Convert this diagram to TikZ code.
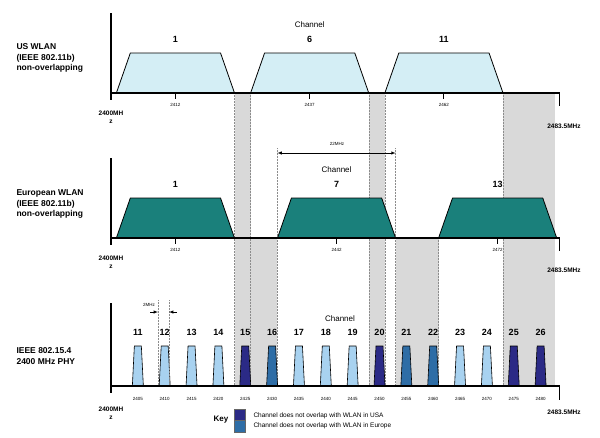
\documentclass[tikz,border=0pt]{standalone}
\usepackage{fontspec}
\setmainfont{Liberation Sans}
\begin{document}
\begin{tikzpicture}[x=1pt,y=-1pt,
  lbl/.style={font=\bfseries\fontsize{8.5}{10.5}\selectfont,align=left,anchor=west},
  num/.style={font=\bfseries\fontsize{9}{10}\selectfont},
  frq/.style={font=\fontsize{4.5}{5}\selectfont},
  ax/.style={line width=1.6pt},
  band/.style={fill=black!15,draw=none},
  dot/.style={densely dotted,black!45,line width=0.5pt},
  wide/.style={draw=black,line width=0.8pt,line join=round}]
\def\X#1{(111+5.37*(#1-2400))}
\useasboundingbox (0,0) rectangle (600,437);
\definecolor{usc}{HTML}{D4EEF5}
\definecolor{euc}{HTML}{1A807B}
\definecolor{lb}{HTML}{A8D2F0}
\definecolor{nv}{HTML}{2B2A86}
\definecolor{mb}{HTML}{2E6DA6}
% bands
\fill[band] ({\X{2423}},93) rectangle ({\X{2426}},386);
\fill[band] ({\X{2448}},93) rectangle ({\X{2451}},386);
\fill[band] ({\X{2473}},93) rectangle ({\X{2482.7}},386);
\fill[band] ({\X{2426}},238) rectangle ({\X{2431}},386);
\fill[band] ({\X{2453}},238) rectangle ({\X{2461}},386);
\foreach \f in {2423,2426,2448,2451,2473}{\draw[dot] ({\X{\f}},93) -- ({\X{\f}},386);}
\foreach \f in {2431,2453,2461}{\draw[dot] ({\X{\f}},238) -- ({\X{\f}},386);}
\draw[dot] ({\X{2431}},148) -- ({\X{2431}},238);
\draw[dot] ({\X{2453}},148) -- ({\X{2453}},238);
% top panel
\node[lbl] (usl) at (13,58) {US WLAN\\(IEEE 802.11b)\\non-overlapping};
\node[font=\fontsize{8}{9}\selectfont] (ch1) at ({\X{2437}},25) {Channel};
\foreach \c/\f in {1/2412,6/2437,11/2462}{
  \fill[usc] ({\X{\f-11}},93) -- ({\X{\f-8.4}},53) -- ({\X{\f+8.4}},53) -- ({\X{\f+11}},93) -- cycle;
  \draw[wide] ({\X{\f-11}},93) -- ({\X{\f-8.4}},53) -- ({\X{\f+8.4}},53) -- ({\X{\f+11}},93);
  \node[num] (u\c) at ({\X{\f}},39) {\c};
  \draw[line width=1pt] ({\X{\f}},93) -- ({\X{\f}},99);
  \node[frq] (uf\c) at ({\X{\f}},105) {\f};
}
\draw[ax] (111,13) -- (111,100);
\draw[ax] (111,93) -- ({\X{2483.5}},93) -- ({\X{2483.5}},106);
\node[font=\bfseries\fontsize{6.5}{8}\selectfont,align=center] (s1) at (111,117) {2400MH\\z};
\node[font=\bfseries\fontsize{6.5}{7}\selectfont] (e1) at (564,126) {2483.5MHz};
% middle panel
\node[lbl] (eul) at (13,204) {European WLAN\\(IEEE 802.11b)\\non-overlapping};
\node[font=\fontsize{4.5}{5}\selectfont] (w22) at (337,144) {22MHz};
\coordinate (a1) at ({\X{2431}},153);
\coordinate (a2) at ({\X{2453}},153);
\draw[<->,>=latex,line width=0.5pt] (a1) -- (a2);
\node[font=\fontsize{8}{9}\selectfont] (ch2) at ({\X{2442}},170) {Channel};
\foreach \c/\f in {1/2412,7/2442,13/2472}{
  \fill[euc] ({\X{\f-11}},238) -- ({\X{\f-8.4}},198) -- ({\X{\f+8.4}},198) -- ({\X{\f+11}},238) -- cycle;
  \draw[wide] ({\X{\f-11}},238) -- ({\X{\f-8.4}},198) -- ({\X{\f+8.4}},198) -- ({\X{\f+11}},238);
  \node[num] (e\c) at ({\X{\f}},184) {\c};
  \draw[line width=1pt] ({\X{\f}},238) -- ({\X{\f}},244);
  \node[frq] (ef\c) at ({\X{\f}},250) {\f};
}
\draw[ax] (111,158) -- (111,245);
\draw[ax] (111,238) -- ({\X{2483.5}},238) -- ({\X{2483.5}},251);
\node[font=\bfseries\fontsize{6.5}{8}\selectfont,align=center] (s2) at (111,262) {2400MH\\z};
\node[font=\bfseries\fontsize{6.5}{7}\selectfont] (e2) at (564,270) {2483.5MHz};
% bottom panel
\node[lbl] (zl) at (13,356) {IEEE 802.15.4\\2400 MHz PHY};
\node[font=\fontsize{8}{9}\selectfont] (ch3) at (340,319) {Channel};
\foreach \c/\col in {11/lb,12/lb,13/lb,14/lb,15/nv,16/mb,17/lb,18/lb,19/lb,20/nv,21/mb,22/mb,23/lb,24/lb,25/nv,26/nv}{
  \pgfmathtruncatemacro\f{2405+5*(\c-11)}
  \pgfmathsetmacro\xx{111+5.37*(\f-2400)}
  \filldraw[fill=\col,draw=black,line width=0.6pt] (\xx-5.5,386) -- (\xx-3.5,346) -- (\xx+3.5,346) -- (\xx+5.5,386) -- cycle;
  \node[num] (z\c) at (\xx,332) {\c};
  \node[frq] (zf\c) at (\xx,399) {\f};
}
\draw[dot] (158,300) -- (158,386);
\draw[dot] (169,300) -- (169,386);
\node[font=\fontsize{4.5}{5}\selectfont] (w2) at (149,305) {2MHz};
\coordinate (b1) at (158,312);
\coordinate (b2) at (169,312);
\draw[<-,>=latex,line width=0.5pt] (b1) -- ++(-8,0);
\draw[<-,>=latex,line width=0.5pt] (b2) -- ++(8,0);
\draw[ax] (111,303) -- (111,393);
\draw[ax] (111,386) -- ({\X{2483.5}},386) -- ({\X{2483.5}},400);
\node[font=\bfseries\fontsize{6.5}{8}\selectfont,align=center] (s3) at (111,413) {2400MH\\z};
\node[font=\bfseries\fontsize{6.5}{7}\selectfont] (e3) at (564,412) {2483.5MHz};
% key
\node[font=\bfseries\fontsize{8}{9}\selectfont] (key) at (221,420) {Key};
\filldraw[fill=nv,draw=black!60,line width=0.4pt] (234,409) rectangle (245,420.5);
\filldraw[fill=mb,draw=black!60,line width=0.4pt] (234,420.5) rectangle (245,432);
\node[anchor=west,font=\fontsize{6.5}{7}\selectfont] (k1) at (250,416) {Channel does not overlap with WLAN in USA};
\node[anchor=west,font=\fontsize{6.5}{7}\selectfont] (k2) at (250,425.5) {Channel does not overlap with WLAN in Europe};
\end{tikzpicture}
\end{document}
